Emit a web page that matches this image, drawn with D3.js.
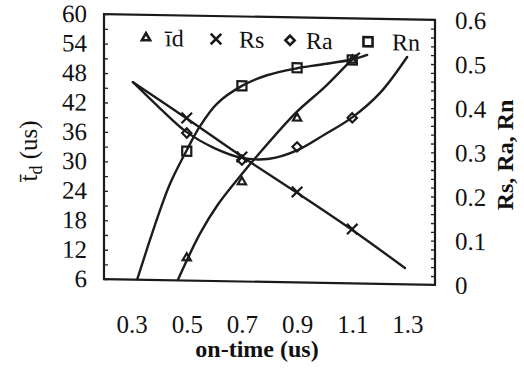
<!DOCTYPE html>
<html>
<head>
<meta charset="utf-8">
<script src="https://cdn.jsdelivr.net/npm/d3@7"></script>
<style>
  html, body { margin: 0; padding: 0; background: #fff; }
  svg { display: block; }
  text { font-family: "Liberation Serif", "Times New Roman", serif; fill: #111; }
</style>
</head>
<body>
<svg id="chart" width="524" height="376"></svg>
<script>
// Measured on-time settings (us)
const onTime = [0.5, 0.7, 0.9, 1.1];

// Mean discharge delay time t̄d (us), left axis
const tdValues = [10.6, 26.3, 39.5, 51.5];
// Surface roughness parameters, right axis
const rsValues = [0.368, 0.282, 0.205, 0.123];
const raValues = [0.334, 0.275, 0.307, 0.375];
const rnValues = [0.293, 0.443, 0.486, 0.506];

// Fitted trend curves: [on-time, value]
const tdCurve = [[0.467, 6.0], [0.548, 15.6], [0.613, 21.6], [0.70, 27.9], [0.747, 31.1],
                 [0.896, 40.6], [1.0, 45.9], [1.099, 51.6], [1.125, 52.9]];
const rsCurve = [[0.305, 0.447], [0.5, 0.367], [0.7, 0.283], [0.9, 0.203], [1.1, 0.121], [1.291, 0.037]];
const raCurve = [[0.305, 0.447], [0.403, 0.389], [0.5, 0.336], [0.6, 0.301], [0.7, 0.280],
                 [0.8, 0.279], [0.9, 0.299], [1.0, 0.336], [1.1, 0.376], [1.2, 0.432], [1.299, 0.515]];
const rnCurve = [[0.32, 0.0], [0.356, 0.070], [0.392, 0.138], [0.439, 0.218], [0.5, 0.295],
                 [0.548, 0.350], [0.61, 0.402], [0.7, 0.443], [0.791, 0.468], [0.9, 0.485],
                 [0.983, 0.494], [1.1, 0.507], [1.154, 0.518]];

// Axis ticks
const xTickLabels = [0.3, 0.5, 0.7, 0.9, 1.1, 1.3];
const leftTickLabels = [6, 12, 18, 24, 30, 36, 42, 48, 54, 60];
const rightTickLabels = [0, 0.1, 0.2, 0.3, 0.4, 0.5, 0.6];

const legendLabels = ["\u012Bd", "Rs", "Ra", "Rn"];

// ---- layout ----
const box = { left: 104, right: 435, top: 17, bottom: 282 };
const svg = d3.select("#chart");

const x = d3.scaleLinear().domain([0.2, 1.4]).range([box.left, box.right]);
const yL = d3.scaleLinear().domain([6, 60]).range([box.bottom, box.top]);
const yR = d3.scaleLinear().domain([0, 0.6]).range([box.bottom, box.top]);

// plot area, drawn with a slight tilt
const g = svg.append("g").attr("transform", "translate(0,-4.71) skewY(1)");

g.append("defs").append("clipPath").attr("id", "plotClip")
  .append("rect")
  .attr("x", box.left).attr("y", box.top)
  .attr("width", box.right - box.left).attr("height", box.bottom - box.top);

// frame
g.append("rect")
  .attr("x", box.left).attr("y", box.top)
  .attr("width", box.right - box.left).attr("height", box.bottom - box.top)
  .attr("fill", "none").attr("stroke", "#1a1a1a").attr("stroke-width", 2.2);

// left axis: inward minor ticks every 3, labels every 6
const leftMinor = d3.range(6, 60.001, 3);
g.append("g").attr("transform", `translate(${box.left},0)`)
  .call(d3.axisRight(yL).tickValues(leftMinor).tickSize(4).tickFormat(""))
  .call(a => a.select(".domain").remove())
  .call(a => a.selectAll("line").attr("stroke", "#222").attr("stroke-width", 1.3));
g.append("g").attr("transform", `translate(${box.left},0)`)
  .call(d3.axisLeft(yL).tickValues(leftTickLabels).tickSize(0).tickPadding(17).tickFormat(d3.format("d")))
  .call(a => a.select(".domain").remove())
  .call(a => a.selectAll("text").attr("font-size", 25).attr("font-family", "Liberation Serif").attr("fill", "#111"));

// right axis: inward minor ticks every 0.02, labels every 0.1
const rightMinor = d3.range(0, 0.6001, 0.02);
g.append("g").attr("transform", `translate(${box.right},0)`)
  .call(d3.axisLeft(yR).tickValues(rightMinor).tickSize(4).tickFormat(""))
  .call(a => a.select(".domain").remove())
  .call(a => a.selectAll("line").attr("stroke", "#222").attr("stroke-width", 1.3));
g.append("g").attr("transform", `translate(${box.right},0)`)
  .call(d3.axisRight(yR).tickValues(rightTickLabels).tickSize(0).tickPadding(20)
    .tickFormat(d => d === 0 ? "0" : d3.format(".1f")(d)))
  .call(a => a.select(".domain").remove())
  .call(a => a.selectAll("text").attr("font-size", 25).attr("font-family", "Liberation Serif").attr("fill", "#111"));

// trend curves
const lineL = d3.line().x(d => x(d[0])).y(d => yL(d[1])).curve(d3.curveCatmullRom.alpha(0.5));
const lineR = d3.line().x(d => x(d[0])).y(d => yR(d[1])).curve(d3.curveCatmullRom.alpha(0.5));
const curves = g.append("g").attr("clip-path", "url(#plotClip)")
  .attr("fill", "none").attr("stroke", "#1c1c1c").attr("stroke-width", 2.4)
  .attr("stroke-linecap", "round").attr("stroke-linejoin", "round");
curves.append("path").attr("d", lineL(tdCurve));
curves.append("path").attr("d", lineR(rsCurve));
curves.append("path").attr("d", lineR(raCurve));
curves.append("path").attr("d", lineR(rnCurve));

// marker shapes
const symTri = d3.symbol().type(d3.symbolTriangle2 || d3.symbolTriangle).size(48);
const symX = d3.symbol().type(d3.symbolTimes || d3.symbolX || d3.symbolCross).size(75);
const symDia = d3.symbol().type(d3.symbolDiamond2 || d3.symbolDiamond).size(55);
const symSq = d3.symbol().type(d3.symbolSquare2 || d3.symbolSquare).size(105);

const series = [
  { values: tdValues, y: yL, sym: symTri },
  { values: rsValues, y: yR, sym: symX },
  { values: raValues, y: yR, sym: symDia },
  { values: rnValues, y: yR, sym: symSq }
];

const marks = g.append("g").attr("fill", "none").attr("stroke", "#1a1a1a").attr("stroke-width", 2.2);
series.forEach(s => {
  marks.selectAll(null).data(onTime.map((t, i) => [t, s.values[i]]))
    .join("path")
    .attr("transform", d => `translate(${x(d[0])},${s.y(d[1])})`)
    .attr("d", s.sym());
});

// legend
const legendMarkX = [146, 216, 290, 368];
const legendTextX = [165, 239, 306, 392];
const legendY = 40;
const legend = g.append("g");
series.forEach((s, i) => {
  legend.append("path")
    .attr("transform", `translate(${legendMarkX[i]},${legendY})`)
    .attr("d", s.sym())
    .attr("fill", "none").attr("stroke", "#1a1a1a").attr("stroke-width", 2.6);
  legend.append("text")
    .attr("x", legendTextX[i]).attr("y", legendY + 8)
    .attr("font-size", 24)
    .text(legendLabels[i]);
});

// x axis labels (no tick marks)
svg.append("g").attr("transform", `translate(0,${box.bottom})`)
  .call(d3.axisBottom(x).tickValues(xTickLabels).tickSize(0).tickPadding(33).tickFormat(d3.format(".1f")))
  .call(a => a.select(".domain").remove())
  .call(a => a.selectAll("text").attr("font-size", 25).attr("font-family", "Liberation Serif").attr("fill", "#111"));

// axis titles
svg.append("text")
  .attr("x", 257).attr("y", 357)
  .attr("text-anchor", "middle").attr("font-size", 24).attr("font-weight", "bold")
  .text("on-time (us)");

const yTitle = svg.append("text")
  .attr("transform", "translate(37,151) rotate(-90)")
  .attr("text-anchor", "middle").attr("font-size", 25);
yTitle.append("tspan").text("t\u0304");
yTitle.append("tspan").attr("dy", 5).attr("font-size", 18).text("d");
yTitle.append("tspan").attr("dy", -5).text(" (us)");

svg.append("text")
  .attr("transform", "translate(513,155) rotate(-90)")
  .attr("text-anchor", "middle").attr("font-size", 24).attr("font-weight", "bold")
  .text("Rs, Ra, Rn");
</script>
</body>
</html>
